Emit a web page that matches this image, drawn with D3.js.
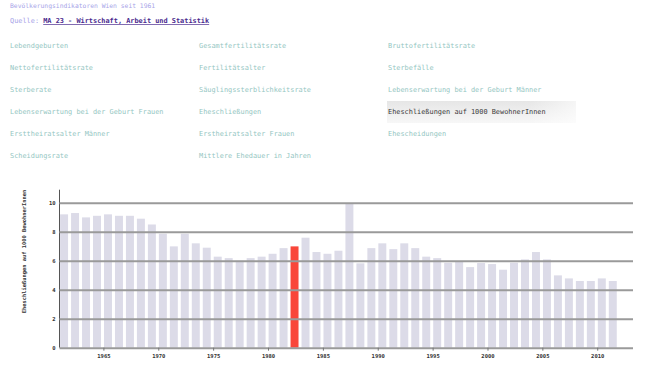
<!DOCTYPE html>
<html><head><meta charset="utf-8">
<script src="https://cdn.jsdelivr.net/npm/d3@7"></script>
<style>body{margin:0;background:#fff}svg{display:block}</style>
</head><body>
<script>
const years = [1961,1962,1963,1964,1965,1966,1967,1968,1969,1970,1971,1972,1973,1974,1975,1976,1977,1978,1979,1980,1981,1982,1983,1984,1985,1986,1987,1988,1989,1990,1991,1992,1993,1994,1995,1996,1997,1998,1999,2000,2001,2002,2003,2004,2005,2006,2007,2008,2009,2010,2011];
const values = [9.2,9.29,8.99,9.1,9.2,9.1,9.1,8.9,8.5,7.86,6.99,7.86,7.2,6.9,6.28,6.18,6.0,6.18,6.28,6.48,6.87,6.99,7.59,6.6,6.48,6.69,9.98,5.82,6.87,7.2,6.8,7.2,6.87,6.28,6.18,5.86,5.98,5.56,5.84,5.77,5.38,5.86,6.09,6.6,6.09,4.99,4.78,4.6,4.6,4.78,4.6];
const highlightYear = 1982;
const yTicks = [0,2,4,6,8,10];
const xTicks = [1965,1970,1975,1980,1985,1990,1995,2000,2005,2010];
const menuCols = [
  ["Lebendgeburten","Nettofertilitätsrate","Sterberate","Lebenserwartung bei der Geburt Frauen","Ersttheiratsalter Männer","Scheidungsrate"],
  ["Gesamtfertilitätsrate","Fertilitätsalter","Säuglingssterblichkeitsrate","Eheschließungen","Erstheiratsalter Frauen","Mittlere Ehedauer in Jahren"],
  ["Bruttofertilitätsrate","Sterbefälle","Lebenserwartung bei der Geburt Männer","Eheschließungen auf 1000 BewohnerInnen","Ehescheidungen"]
];
const selectedItem = "Eheschließungen auf 1000 BewohnerInnen";
const title = "Bevölkerungsindikatoren Wien seit 1961";
const sourceLabel = "Quelle: ";
const sourceLink = "MA 23 - Wirtschaft, Arbeit und Statistik";
const yLabel = "Eheschließungen auf 1000 BewohnerInnen";

const W = 650, H = 384;
const mono = "'DejaVu Sans Mono', 'Liberation Mono', monospace";
const svg = d3.select("body").append("svg").attr("width", W).attr("height", H);

const defs = svg.append("defs");
const grad = defs.append("linearGradient").attr("id","sel").attr("x1","0").attr("y1","0").attr("x2","0").attr("y2","1");
grad.append("stop").attr("offset","0").attr("stop-color","#e6e6e6");
grad.append("stop").attr("offset","1").attr("stop-color","#f7f7f7");
const grad2 = defs.append("linearGradient").attr("id","selfade").attr("x1","0").attr("y1","0").attr("x2","1").attr("y2","0");
grad2.append("stop").attr("offset","0.75").attr("stop-color","#fff").attr("stop-opacity",0);
grad2.append("stop").attr("offset","1").attr("stop-color","#fff").attr("stop-opacity",0.6);

// header
svg.append("text").attr("x",10).attr("y",6).attr("dominant-baseline","middle")
  .attr("font-family",mono).attr("font-size",6.35).attr("fill","#a7a4e8").text(title);
const q = svg.append("text").attr("x",10).attr("y",21).attr("dominant-baseline","middle")
  .attr("font-family",mono).attr("font-size",6.9);
q.append("tspan").attr("fill","#a7a4e8").text(sourceLabel);
q.append("tspan").attr("fill","#4a2a8e").attr("font-weight","bold").attr("text-decoration","underline").text(sourceLink);

// menu
const colX = [10,199,388];
const rowY = [46,68,90,112,134,156];
menuCols.forEach((col,ci)=>{
  col.forEach((item,ri)=>{
    const sel = item === selectedItem;
    if (sel) {
      svg.append("rect").attr("x",colX[ci]-1).attr("y",rowY[ri]-11).attr("width",189).attr("height",22).attr("fill","url(#sel)");
      svg.append("rect").attr("x",colX[ci]-1).attr("y",rowY[ri]-11).attr("width",189).attr("height",22).attr("fill","url(#selfade)");
    }
    svg.append("text").attr("x",colX[ci]).attr("y",rowY[ri]).attr("dominant-baseline","middle")
      .attr("font-family",mono).attr("font-size",6.9)
      .attr("fill", sel ? "#3a3a3a" : "#94c6c2").text(item);
  });
});

// chart
const x = d3.scaleLinear().domain([1961, 2013.26]).range([59.5, 633]);
const y = d3.scaleLinear().domain([0, 10.9]).range([347.7, 189.7]);
const step = x(1962) - x(1961);
const data = years.map((yr,i)=>({year:yr, value:values[i]}));

svg.append("g").selectAll("rect").data(data).join("rect")
  .attr("x", d=>x(d.year)+0.6)
  .attr("width", step-3)
  .attr("y", d=>y(d.value))
  .attr("height", d=>y(0)-y(d.value))
  .attr("fill", d=>d.year===highlightYear ? "#f9463a" : "#dcdbe8");

// gridlines / y axis
const yAxis = d3.axisLeft(y).tickValues(yTicks).tickSize(-(633-59.5)).tickPadding(4);
const gy = svg.append("g").attr("transform","translate(59.5,0)").call(yAxis);
gy.select(".domain").attr("stroke","#555").attr("stroke-width",1).attr("d",`M0,${y(10.9)}V${y(0)}`);
gy.selectAll(".tick line").attr("stroke","#9a9a9a").attr("stroke-width",2);
gy.selectAll(".tick text").attr("font-family",mono).attr("font-size",5.5).attr("font-weight","bold").attr("fill","#333");

// x axis
const xAxis = d3.axisBottom(x).tickValues(xTicks).tickFormat(d3.format("d")).tickSize(3).tickPadding(3);
const gx = svg.append("g").attr("transform",`translate(0,${y(0)})`).call(xAxis);
gx.select(".domain").attr("stroke","none");
gx.selectAll(".tick line").attr("stroke","#777");
gx.selectAll(".tick text").attr("font-family",mono).attr("font-size",5.5).attr("font-weight","bold").attr("fill","#333");

// y label
svg.append("text").attr("transform","translate(25,251.5) rotate(-90)")
  .attr("text-anchor","middle").attr("dominant-baseline","middle")
  .attr("font-family",mono).attr("font-size",5.4).attr("font-weight","bold").attr("fill","#333")
  .text(yLabel);
</script>
</body></html>
